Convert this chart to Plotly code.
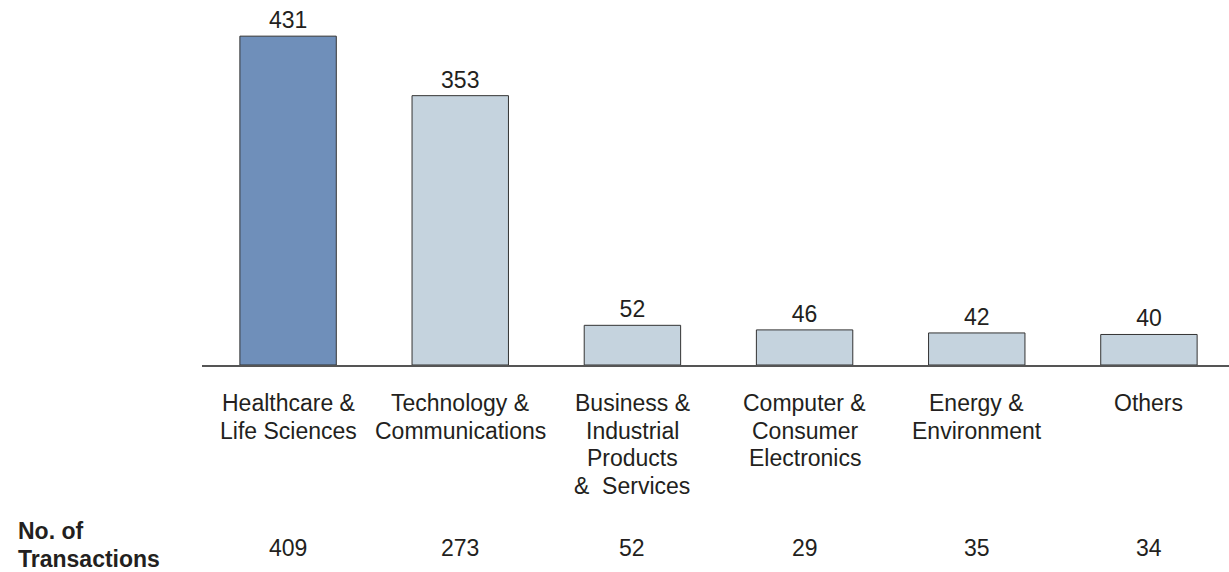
import plotly.graph_objects as go

categories = ["Healthcare &<br>Life Sciences", "Technology &<br>Communications",
              "Business &<br>Industrial<br>Products<br>&\u00a0\u00a0Services",
              "Computer &<br>Consumer<br>Electronics", "Energy &<br>Environment", "Others"]
values = [431, 353, 52, 46, 42, 40]
transactions = [409, 273, 52, 29, 35, 34]
row_label = "No. of<br>Transactions"

bar_colors = ["#6f8fba"] + ["#c5d3de"] * 5
FONT = "Liberation Sans, Arial, sans-serif"
TXT = "#231f20"
FS = 23
LINE = 27.6

x_idx = list(range(len(categories)))

fig = go.Figure(go.Bar(
    x=x_idx, y=values, width=0.56,
    marker=dict(color=bar_colors, line=dict(color="#333333", width=1)),
    text=[str(v) for v in values], textposition="outside",
    textfont=dict(size=FS, color=TXT, family=FONT),
    cliponaxis=False, hoverinfo="skip",
))

W, H = 1229, 572
L, T, B = 202, 0, 207
plot_h = H - T - B

def py(p):
    return (H - B - p) / plot_h

annotations = []
for i, c in enumerate(categories):
    for k, line in enumerate(c.split("<br>")):
        annotations.append(dict(x=i, xref="x", y=py(403 + LINE * k), yref="paper", text=line,
                                showarrow=False, xanchor="center", yanchor="middle",
                                font=dict(size=FS, color=TXT, family=FONT)))
    annotations.append(dict(x=i, xref="x", y=py(548), yref="paper", text=str(transactions[i]),
                            showarrow=False, xanchor="center", yanchor="middle",
                            font=dict(size=FS, color=TXT, family=FONT)))
for k, line in enumerate(row_label.split("<br>")):
    annotations.append(dict(x=(16 - L) / (W - L), xref="paper", y=py(531 + LINE * k), yref="paper",
                            text="<b>" + line + "</b>", showarrow=False,
                            xanchor="left", yanchor="middle", align="left",
                            font=dict(size=FS, color=TXT, family=FONT)))

fig.update_layout(
    width=W, height=H,
    margin=dict(l=L, r=0, t=T, b=B, pad=0),
    paper_bgcolor="white", plot_bgcolor="white",
    showlegend=False,
    xaxis=dict(range=[-0.5, 5.5 - 6 / 172], showticklabels=False, ticks="",
               showgrid=False, zeroline=False, showline=True,
               linecolor="#555555", linewidth=1.5, fixedrange=True),
    yaxis=dict(range=[0, 365 / 0.763], visible=False, showgrid=False,
               zeroline=False, fixedrange=True),
    annotations=annotations,
)

fig.write_html("out.html", config={"displayModeBar": False},
               post_script="document.body.style.margin='0';document.body.style.overflow='hidden';")
